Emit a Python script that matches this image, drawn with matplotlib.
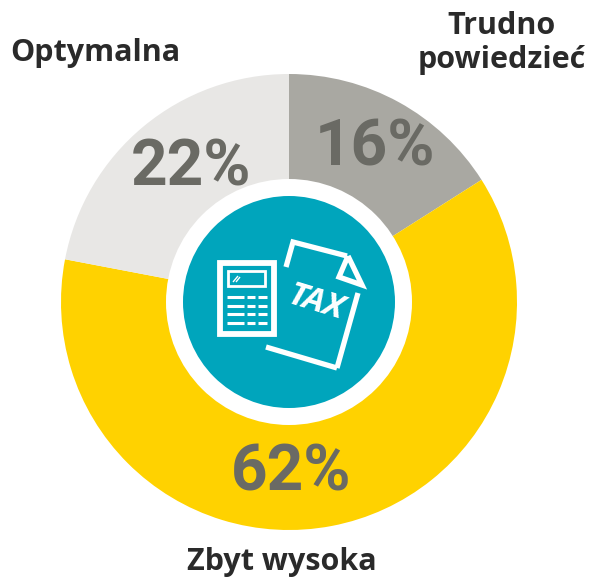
import matplotlib
matplotlib.use('Agg')
import matplotlib.pyplot as plt
from matplotlib.patches import Circle, Rectangle

# Given data
categories = ['Trudno\npowiedzieć', 'Zbyt wysoka', 'Optymalna']
values = [16, 62, 22]
pct_labels = ['16%', '62%', '22%']
colors = ['#a9a8a2', '#ffd200', '#e8e7e5']

W, H = 590, 578
CX, CY = 289, 302


def fy(y):
    # picture y (from top) to axes y
    return H - y


fig = plt.figure(figsize=(W / 100, H / 100), dpi=100)
ax = fig.add_axes([0, 0, 1, 1])

# Donut, clockwise from 12 o'clock
ax.pie(values, colors=colors, startangle=90, counterclock=False,
       center=(CX, fy(CY)), radius=228, frame=True)
ax.set_xlim(0, W)
ax.set_ylim(0, H)
ax.set_aspect('equal')
ax.axis('off')

ax.add_patch(Circle((CX, fy(CY)), 123, fc='white', ec='none', zorder=3))
ax.add_patch(Circle((CX, fy(CY)), 106, fc='#00a5bc', ec='none', zorder=4))

# Percent labels
pct_pos = [(375, 148), (291, 473), (191, 168)]
for txt, (x, y) in zip(pct_labels, pct_pos):
    ax.text(x, fy(y), txt, color='#6a6a64', fontsize=46, fontweight='bold',
            family='Roboto', ha='center', va='center', zorder=5)

# Category labels
label_pos = [(502, 43), (282, 562), (95, 53)]
for txt, (x, y) in zip(categories, label_pos):
    ax.text(x, fy(y), txt, color='#2a2a2a', fontsize=22, fontweight='bold',
            family='Open Sans', ha='center', va='center', linespacing=1.15, zorder=5)


# Calculator icon
def rect(x0, y0, x1, y1, **kw):
    ax.add_patch(Rectangle((x0, fy(y1)), x1 - x0, y1 - y0, zorder=6, **kw))


def stroke(pts, lw=3.2):
    ax.plot([p[0] for p in pts], [fy(p[1]) for p in pts], color='white', lw=lw,
            solid_capstyle='butt', solid_joinstyle='miter', zorder=6)


rect(220, 263, 274, 334, fc='none', ec='white', lw=4.2)
rect(228, 271, 265, 286, fc='none', ec='white', lw=2)
stroke([(233, 282), (238, 276)], lw=1)
stroke([(236, 282), (240, 277)], lw=1)
for row_y in (297, 306, 314, 323):
    stroke([(227, row_y), (244, row_y)], lw=2.2)
    stroke([(247, row_y), (255, row_y)], lw=2.2)
    stroke([(258, row_y), (267, row_y)], lw=2.2)

# Document icon
stroke([(286, 267), (293, 242), (347, 256)], lw=3.8)
stroke([(358, 293), (337, 368)], lw=3.8)
stroke([(337, 368), (266, 347)], lw=3.8)
stroke([(348, 256), (362, 285), (339, 277), (348, 256)], lw=3.8)

ax.text(316, fy(303), 'TAX', color='white', fontsize=24, fontweight='bold', fontstyle='italic',
        family='Open Sans', rotation=-17, ha='center', va='center', zorder=6)

fig.savefig('out.png', dpi=100, facecolor='white')
